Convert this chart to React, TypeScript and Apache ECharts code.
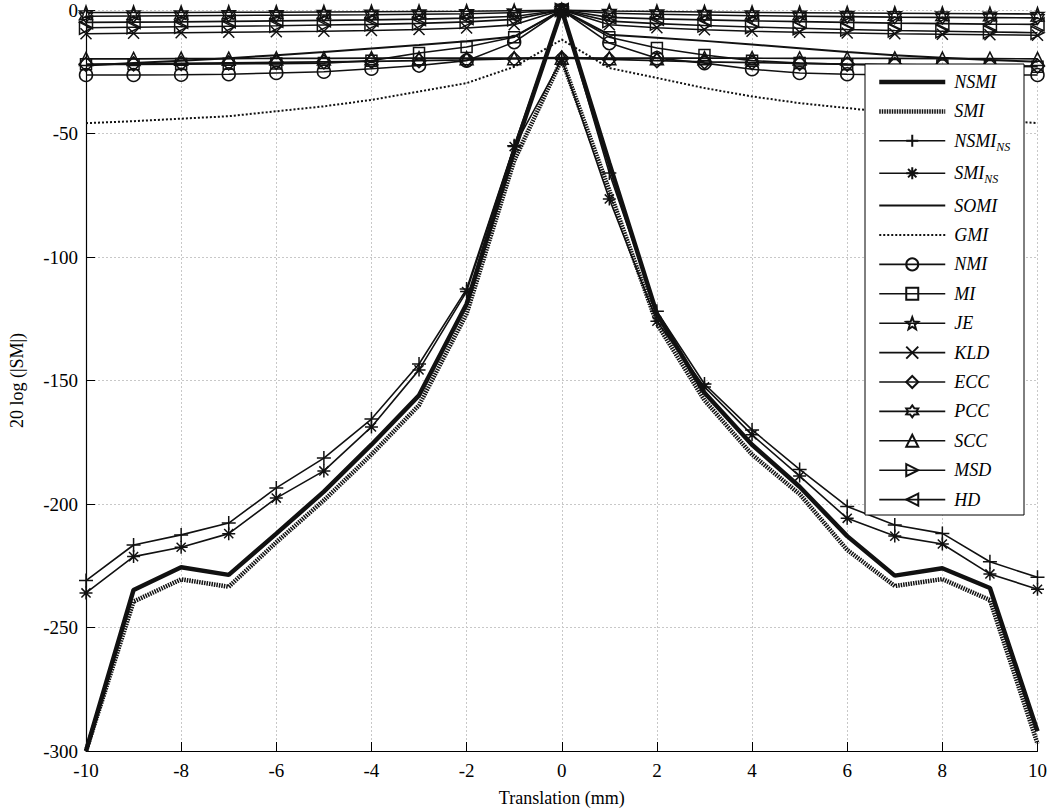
import React, { useEffect, useRef } from 'react';
import * as echarts from 'echarts';

const translation = [-10, -9, -8, -7, -6, -5, -4, -3, -2, -1, 0, 1, 2, 3, 4, 5, 6, 7, 8, 9, 10];

const NSMI = [-300, -234.8, -225.6, -228.7, -212, -195, -176, -156, -119, -57, 0, -62, -123, -155, -176, -193, -213, -229, -226, -234, -292];
const SMI = [-300, -239.5, -230.5, -233.5, -215.5, -198.5, -180, -160, -123, -61, -20, -73, -127, -158, -180, -196, -218.6, -233.2, -230.4, -238.9, -297];
const NSMI_NS = [-231, -216.6, -212.5, -207.7, -193.5, -181.4, -165.6, -143.3, -113, -55, 0, -66, -122, -151.4, -170, -186, -201, -208.5, -211.9, -223.4, -229.7];
const SMI_NS = [-236, -221.3, -217.5, -212, -197.6, -186.6, -168.8, -145.7, -114, -55.3, -20, -76.5, -126, -152.6, -172, -188.7, -205.8, -213, -216.2, -228.3, -234.5];
const SOMI = [-22.5, -21.5, -20.5, -19.5, -18.3, -17, -15.6, -14.2, -12.7, -10.8, 0, -10, -11.2, -12.5, -14, -15.5, -17, -18.3, -19.3, -20.2, -21];
const GMI = [-45.8, -45, -44, -43, -41, -39, -36.4, -33, -29.6, -23, -12, -23.5, -27.5, -31.6, -35, -37.7, -39.7, -41.7, -43.3, -44.5, -45.8];
const NMI = [-26.3, -26.3, -26.2, -26, -25.5, -25, -23.8, -22.5, -20.5, -13, 0, -13.4, -19.5, -21.5, -24, -25.5, -26, -26.3, -26.3, -26.3, -26.3];
const MI = [-22, -22, -21.9, -21.8, -21.7, -21.5, -20.5, -17.4, -15, -11, 0, -11, -15.4, -18.2, -20.5, -21.5, -22, -22.3, -22.5, -22.7, -23];
const JE = [-1, -1, -1, -0.9, -0.9, -0.8, -0.7, -0.6, -0.5, -0.3, 0, -0.4, -0.6, -0.8, -1, -1.1, -1.2, -1.3, -1.4, -1.5, -1.6];
const KLD = [-9.6, -9.4, -9.2, -9, -8.8, -8.6, -8.3, -7.9, -7.3, -6, 0, -6, -7.2, -8, -8.6, -9, -9.3, -9.6, -9.8, -10, -10.2];
const ECC = [-22, -21.8, -21.6, -21.4, -21.2, -21, -20.8, -20.5, -20.2, -19.8, -19.5, -20, -20.5, -21, -21.3, -21.6, -21.9, -22.1, -22.3, -22.5, -22.7];
const PCC = [-2.5, -2.4, -2.3, -2.2, -2.1, -2, -1.9, -1.7, -1.5, -1.1, 0, -1.3, -1.7, -2, -2.3, -2.5, -2.7, -2.9, -3, -3.1, -3.2];
const SCC = [-19.8, -19.8, -19.7, -19.7, -19.6, -19.6, -19.5, -19.5, -19.5, -19.5, -19.3, -19.5, -19.5, -19.5, -19.5, -19.6, -19.6, -19.6, -19.7, -19.7, -19.8];
const MSD = [-7.2, -7, -6.8, -6.6, -6.4, -6.1, -5.8, -5.4, -4.8, -3.8, 0, -4.5, -5.5, -6.3, -6.9, -7.4, -7.9, -8.3, -8.6, -8.9, -9.2];
const HD = [-5, -4.9, -4.8, -4.6, -4.4, -4.2, -4, -3.7, -3.3, -2.6, 0, -3, -3.6, -4, -4.4, -4.7, -5, -5.3, -5.5, -5.7, -5.8];

const SERIF = "'Liberation Serif', 'Times New Roman', serif";
const INK = '#111';

function starPath(points: number, inner: number): string {
  let d = '';
  for (let i = 0; i < points * 2; i++) {
    const r = i % 2 === 0 ? 1 : inner;
    const a = -Math.PI / 2 + (i * Math.PI) / points;
    d += (i === 0 ? 'M' : 'L') + (1 + r * Math.cos(a)).toFixed(3) + ',' + (1 + r * Math.sin(a)).toFixed(3);
  }
  return 'path://' + d + 'Z';
}

const SYM_PLUS = 'path://M1,0L1,2M0,1L2,1';
const SYM_AST = 'path://M1,0L1,2M0,1L2,1M0.3,0.3L1.7,1.7M1.7,0.3L0.3,1.7';
const SYM_X = 'path://M0,0L2,2M2,0L0,2';
const SYM_STAR = starPath(5, 0.42);
const SYM_HEX = starPath(6, 0.6);
const SYM_TRI = 'path://M1,0L2,2L0,2Z';
const SYM_RIGHT = 'path://M0,0L2,1L0,2Z';
const SYM_LEFT = 'path://M2,0L0,1L2,2Z';
const SYM_DIAMOND = 'path://M1,0L2,1L1,2L0,1Z';

type Def = { name: string; data: number[]; symbol: string; width: number; type: any; size?: number };

const defs: Def[] = [
  { name: 'NSMI', data: NSMI, symbol: 'none', width: 4.5, type: 'solid' },
  { name: 'SMI', data: SMI, symbol: 'none', width: 4.5, type: [1.5, 1] },
  { name: 'NSMI_NS', data: NSMI_NS, symbol: SYM_PLUS, width: 1.6, type: 'solid', size: 14 },
  { name: 'SMI_NS', data: SMI_NS, symbol: SYM_AST, width: 1.6, type: 'solid', size: 13 },
  { name: 'SOMI', data: SOMI, symbol: 'none', width: 2, type: 'solid' },
  { name: 'GMI', data: GMI, symbol: 'none', width: 2, type: [2, 2] },
  { name: 'NMI', data: NMI, symbol: 'circle', width: 1.6, type: 'solid', size: 13 },
  { name: 'MI', data: MI, symbol: 'rect', width: 1.6, type: 'solid', size: 11 },
  { name: 'JE', data: JE, symbol: SYM_STAR, width: 1.6, type: 'solid', size: 13 },
  { name: 'KLD', data: KLD, symbol: SYM_X, width: 1.6, type: 'solid', size: 11 },
  { name: 'ECC', data: ECC, symbol: SYM_DIAMOND, width: 1.6, type: 'solid', size: 14 },
  { name: 'PCC', data: PCC, symbol: SYM_HEX, width: 1.6, type: 'solid', size: 13 },
  { name: 'SCC', data: SCC, symbol: SYM_TRI, width: 1.6, type: 'solid', size: 13 },
  { name: 'MSD', data: MSD, symbol: SYM_RIGHT, width: 1.6, type: 'solid', size: 13 },
  { name: 'HD', data: HD, symbol: SYM_LEFT, width: 1.6, type: 'solid', size: 13 },
];

export default function App() {
  const ref = useRef<HTMLDivElement>(null);
  useEffect(() => {
    if (!ref.current) return;
    const chart = echarts.init(ref.current, null, { renderer: 'svg' });
    const series = defs.map((d) => ({
      type: 'line',
      name: d.name,
      data: translation.map((x, i) => [x, d.data[i]]),
      symbol: d.symbol,
      symbolSize: d.size || 0,
      showSymbol: d.symbol !== 'none',
      lineStyle: { color: INK, width: d.width, type: d.type },
      itemStyle: {
        color: 'rgba(0,0,0,0)',
        borderColor: INK,
        borderWidth: d.symbol === 'none' ? 0 : 1.5,
      },
      emphasis: { disabled: true },
      z: d.width >= 4 ? 3 : 2,
    }));
    chart.setOption({
      animation: false,
      backgroundColor: '#fff',
      grid: { left: 81, right: 12, top: 10, bottom: 61 },
      xAxis: {
        type: 'value',
        min: -10,
        max: 10,
        interval: 2,
        name: 'Translation (mm)',
        nameLocation: 'middle',
        nameGap: 38,
        nameTextStyle: { fontFamily: SERIF, fontSize: 18, color: '#000' },
        axisLine: { show: true, onZero: false, lineStyle: { color: '#000', width: 1.2 } },
        axisTick: { show: true, inside: true, length: 9, lineStyle: { color: '#000' } },
        axisLabel: { fontFamily: SERIF, fontSize: 19, color: '#000', margin: 10 },
        splitLine: { show: true, lineStyle: { color: '#c8c8c8', type: [2, 2], width: 1 } },
      },
      yAxis: {
        type: 'value',
        min: -300,
        max: 0,
        interval: 50,
        name: '20 log (|SM|)',
        nameLocation: 'middle',
        nameGap: 60,
        nameTextStyle: { fontFamily: SERIF, fontSize: 18, color: '#000' },
        axisLine: { show: true, onZero: false, lineStyle: { color: '#000', width: 1.2 } },
        axisTick: { show: true, inside: true, length: 9, lineStyle: { color: '#000' } },
        axisLabel: { fontFamily: SERIF, fontSize: 19, color: '#000', margin: 8 },
        splitLine: { show: true, lineStyle: { color: '#c8c8c8', type: [2, 2], width: 1 } },
      },
      graphic: [
        {
          type: 'rect',
          z: 3,
          shape: { x: 865, y: 64, width: 159, height: 451 },
          style: { fill: '#fff', stroke: '#000', lineWidth: 1 },
        },
      ],
      legend: {
        orient: 'vertical',
        left: 865,
        top: 64,
        padding: [9, 10, 6, 12],
        itemGap: 11.4,
        itemWidth: 66,
        itemHeight: 15,
        z: 5,
        data: defs.map((d) => ({
          name: d.name,
          lineStyle: { color: INK, width: d.width, type: d.type },
        })),
        formatter: (name: string) =>
          name.endsWith('_NS') ? `{m|${name.slice(0, -3)}}{s|NS}` : `{m|${name}}`,
        textStyle: {
          fontFamily: SERIF,
          fontStyle: 'italic',
          fontSize: 18,
          color: '#000',
          padding: [0, 0, 0, 4],
          rich: {
            m: { fontFamily: SERIF, fontStyle: 'italic', fontSize: 18, lineHeight: 24, color: '#000' },
            s: { fontFamily: SERIF, fontStyle: 'italic', fontSize: 12, color: '#000', verticalAlign: 'bottom' },
          },
        },
      },
      series,
    });
    return () => chart.dispose();
  }, []);
  return <div ref={ref} style={{ position: 'absolute', left: 0, top: 0, width: 1050, height: 812 }} />;
}
